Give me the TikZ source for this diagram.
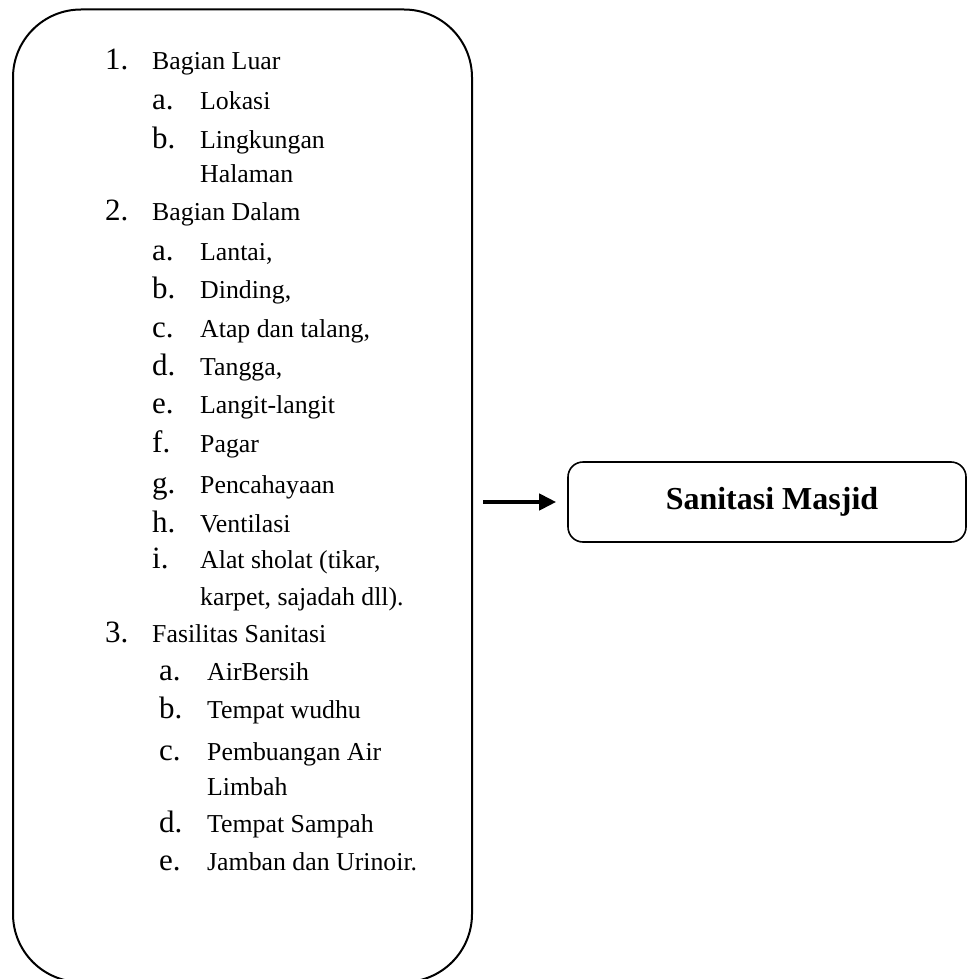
\documentclass[tikz,border=0pt]{standalone}
\usepackage{fontspec}
\setmainfont{Liberation Serif}
\usetikzlibrary{arrows.meta}
\begin{document}
\begin{tikzpicture}[x=1pt,y=-1pt,
  itemtxt/.style={anchor=base west, inner sep=0pt, font=\fontsize{25.8}{30}\selectfont},
  itemlbl/.style={anchor=base west, inner sep=0pt, font=\fontsize{31}{34}\selectfont},
  bigbox/.style={draw=black, line width=2pt, rounded corners=68pt, minimum width=459pt, minimum height=972.5pt, inner sep=0pt},
  smallbox/.style={draw=black, line width=1.6pt, rounded corners=15pt, minimum width=398pt, minimum height=80pt, inner sep=0pt, font=\fontsize{32}{36}\selectfont\bfseries},
  conn/.style={line width=4pt, -{Triangle[length=17pt,width=16pt]}, shorten <=10pt, shorten >=11pt}
]
\useasboundingbox (0,0) rectangle (967,979);
\node[bigbox] (L) at (242.5,495.75) {};
\node[smallbox] (R) at (767,502) {\hspace*{10pt}Sanitasi Masjid};
\draw[conn] (R.west -| L.east) -- (R.west);

% section 1
\node[itemlbl] (n1) at (105,70) {1.};
\node[itemtxt] (t1) at (152,70) {Bagian Luar};
\node[itemlbl] (n1a) at (152,110) {a.};
\node[itemtxt] (t1a) at (200,110) {Lokasi};
\node[itemlbl] (n1b) at (152,148) {b.};
\node[itemtxt] (t1b) at (200,148) {Lingkungan};
\node[itemtxt] (t1b2) at (200,182) {Halaman};
% section 2
\node[itemlbl] (n2) at (105,220) {2.};
\node[itemtxt] (t2) at (152,220) {Bagian Dalam};
\node[itemlbl] (n2a) at (152,260) {a.};
\node[itemtxt] (t2a) at (200,260) {Lantai,};
\node[itemlbl] (n2b) at (152,298) {b.};
\node[itemtxt] (t2b) at (200,298) {Dinding,};
\node[itemlbl] (n2c) at (152,337) {c.};
\node[itemtxt] (t2c) at (200,337) {Atap dan talang,};
\node[itemlbl] (n2d) at (152,375) {d.};
\node[itemtxt] (t2d) at (200,375) {Tangga,};
\node[itemlbl] (n2e) at (152,413) {e.};
\node[itemtxt] (t2e) at (200,413) {Langit-langit};
\node[itemlbl] (n2f) at (152,452) {f.};
\node[itemtxt] (t2f) at (200,452) {Pagar};
\node[itemlbl] (n2g) at (152,493) {g.};
\node[itemtxt] (t2g) at (200,493) {Pencahayaan};
\node[itemlbl] (n2h) at (152,532) {h.};
\node[itemtxt] (t2h) at (200,532) {Ventilasi};
\node[itemlbl] (n2i) at (152,568) {i.};
\node[itemtxt] (t2i) at (200,568) {Alat sholat (tikar,};
\node[itemtxt] (t2i2) at (200,605) {karpet, sajadah dll).};
% section 3
\node[itemlbl] (n3) at (105,642) {3.};
\node[itemtxt] (t3) at (152,642) {Fasilitas Sanitasi};
\node[itemlbl] (n3a) at (159,680) {a.};
\node[itemtxt] (t3a) at (207,680) {AirBersih};
\node[itemlbl] (n3b) at (159,718) {b.};
\node[itemtxt] (t3b) at (207,718) {Tempat wudhu};
\node[itemlbl] (n3c) at (159,760) {c.};
\node[itemtxt] (t3c) at (207,760) {Pembuangan Air};
\node[itemtxt] (t3c2) at (207,795) {Limbah};
\node[itemlbl] (n3d) at (159,832) {d.};
\node[itemtxt] (t3d) at (207,832) {Tempat Sampah};
\node[itemlbl] (n3e) at (159,870) {e.};
\node[itemtxt] (t3e) at (207,870) {Jamban dan Urinoir.};
\end{tikzpicture}
\end{document}
